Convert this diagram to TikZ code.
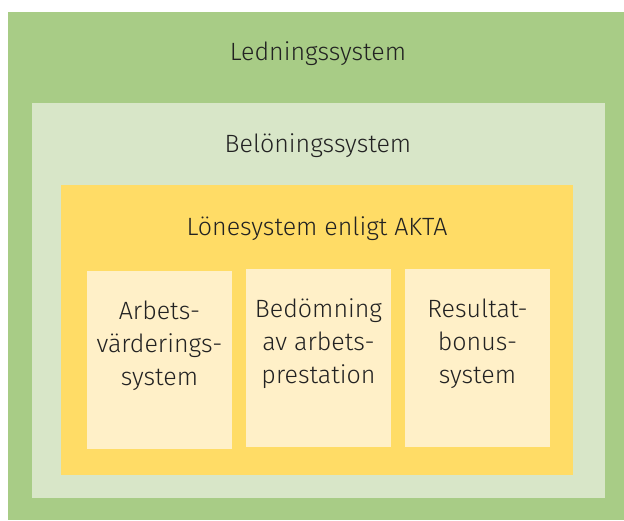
\documentclass[tikz,border=0pt]{standalone}
\usepackage{fontspec}
\setmainfont{Fira Sans}[UprightFont=* Light]
\definecolor{ledgreen}{HTML}{A8CC86}
\definecolor{belgreen}{HTML}{D8E6C8}
\definecolor{lonyellow}{HTML}{FFDC66}
\definecolor{partcream}{HTML}{FFF0C8}
\definecolor{textgray}{HTML}{222222}
\tikzset{
  layer/.style={rectangle, inner sep=0pt, draw=none},
  part/.style={rectangle, inner sep=0pt, minimum width=145pt, minimum height=178pt, fill=partcream},
  label/.style={text=textgray, font=\fontsize{25}{33}\selectfont, align=center}
}
\begin{document}
\begin{tikzpicture}[x=1pt, y=-1pt]
	\useasboundingbox (0,0) rectangle (624,520);
	% nested layers
	\node (led) at (316,266) [layer, fill=ledgreen, minimum width=616pt, minimum height=508pt] {};
	\node (bel) at (318.5,300.5) [layer, fill=belgreen, minimum width=573pt, minimum height=395pt] {};
	\node (lon) at (317,330) [layer, fill=lonyellow, minimum width=512pt, minimum height=290pt] {};
	% the three parts
	\node (arb) at (159.5,360) [part] {};
	\node (bed) at (318.5,358) [part] {};
	\node (res) at (477.5,358) [part] {};
	% titles
	\node (ledtxt) at (318,54) [label] {Ledningssystem};
	\node (beltxt) at (318,146) [label] {Belöningssystem};
	\node (lontxt) at (317,229) [label] {Lönesystem enligt AKTA};
	\node (arbtxt) at (159.5,346) [label] {Arbets-\\värderings-\\system};
	\node (bedtxt) at (318.5,344) [label] {Bedömning\\av arbets-\\prestation};
	\node (restxt) at (477.5,344) [label] {Resultat-\\bonus-\\system};
\end{tikzpicture}
\end{document}
